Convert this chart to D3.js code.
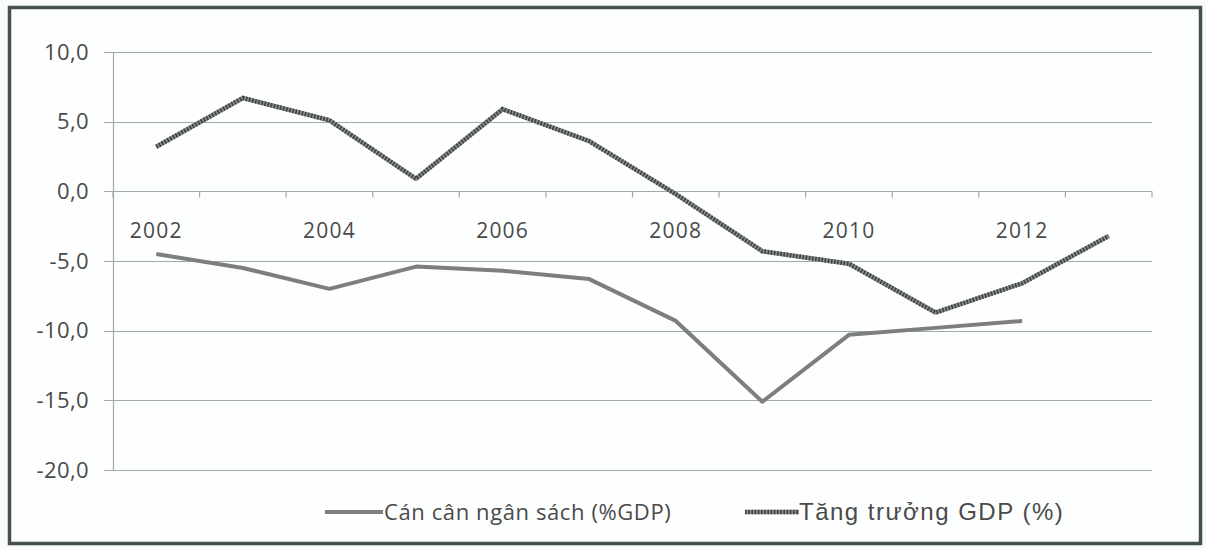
<!DOCTYPE html>
<html>
<head>
<meta charset="utf-8">
<script src="https://cdn.jsdelivr.net/npm/d3@7"></script>
<style>
  body { margin: 0; background: #fff; }
  svg { display: block; }
</style>
</head>
<body>
<script>
const years = ['2002', '2003', '2004', '2005', '2006', '2007', '2008', '2009', '2010', '2011', '2012', '2013'];
const yearLabels = ['2002', '2004', '2006', '2008', '2010', '2012'];
const yTicks = [10, 5, 0, -5, -10, -15, -20];
// Cán cân ngân sách (%GDP), no value for 2013
const budget = [-4.5, -5.5, -7.0, -5.4, -5.7, -6.3, -9.3, -15.1, -10.3, -9.8, -9.3, null];
// Tăng trưởng GDP (%)
const gdp = [3.2, 6.7, 5.1, 0.9, 5.9, 3.6, -0.2, -4.3, -5.2, -8.7, -6.6, -3.2];
const legendNames = ['Cán cân ngân sách (%GDP)', 'Tăng trưởng GDP (%)'];

const width = 1206, height = 548;
const svg = d3.select('body').append('svg').attr('width', width).attr('height', height);

svg.append('rect').attr('width', width).attr('height', height).attr('fill', '#f9fbfb');
// frame of the scanned figure
svg.append('rect')
  .attr('x', 9.5).attr('y', 7.5).attr('width', 1191).attr('height', 536)
  .attr('fill', '#fdfefe').attr('stroke', '#44524e').attr('stroke-width', 3.5);

const x = d3.scaleBand().domain(years).range([113, 1152]);
const y = d3.scaleLinear().domain([-20, 10]).range([470, 52]);

const textColor = '#4a4a4a';
const gridColor = '#a3a8a8';

// gridlines
svg.append('g').selectAll('line').data(yTicks).enter().append('line')
  .attr('x1', 104).attr('x2', x.range()[1])
  .attr('y1', d => Math.round(y(d)) + 0.5).attr('y2', d => Math.round(y(d)) + 0.5)
  .attr('stroke', gridColor).attr('stroke-width', 1.2);

// vertical axis
svg.append('line')
  .attr('x1', 113.5).attr('x2', 113.5).attr('y1', y(10)).attr('y2', y(-20))
  .attr('stroke', gridColor).attr('stroke-width', 1.2);

svg.append('g').selectAll('text').data(yTicks).enter().append('text')
  .attr('x', 89).attr('y', d => y(d)).attr('dy', '0.35em')
  .attr('text-anchor', 'end')
  .attr('font-family', 'Open Sans').attr('font-size', 22).attr('letter-spacing', 0.4)
  .attr('fill', textColor)
  .text(d => d3.format('.1f')(d).replace('.', ',').replace('−', '-'));

// category axis at zero
const zeroY = Math.round(y(0)) + 0.5;
const tickXs = years.map(d => x(d)).concat([x.range()[1]]);
svg.append('g').selectAll('line').data(tickXs).enter().append('line')
  .attr('x1', d => d).attr('x2', d => d).attr('y1', zeroY).attr('y2', zeroY + 6)
  .attr('stroke', gridColor).attr('stroke-width', 1.2);

svg.append('g').selectAll('text').data(yearLabels).enter().append('text')
  .attr('x', d => x(d) + x.bandwidth() / 2).attr('y', 238)
  .attr('text-anchor', 'middle')
  .attr('font-family', 'Open Sans').attr('font-size', 21).attr('letter-spacing', 1.2)
  .attr('fill', textColor)
  .text(d => d);

const line = d3.line()
  .defined(d => d.v !== null)
  .x(d => x(d.year) + x.bandwidth() / 2)
  .y(d => y(d.v));

const budgetData = years.map((yr, i) => ({ year: yr, v: budget[i] }));
const gdpData = years.map((yr, i) => ({ year: yr, v: gdp[i] }));

svg.append('path').datum(budgetData).attr('d', line)
  .attr('fill', 'none').attr('stroke', '#7d7f7f').attr('stroke-width', 4)
  .attr('stroke-linejoin', 'round');

svg.append('path').datum(gdpData).attr('d', line)
  .attr('fill', 'none').attr('stroke', '#8c8e8e').attr('stroke-width', 4.5)
  .attr('stroke-linejoin', 'round');
svg.append('path').datum(gdpData).attr('d', line)
  .attr('fill', 'none').attr('stroke', '#3f4242').attr('stroke-width', 4.5)
  .attr('stroke-dasharray', '1.6 1.6');

// legend
const legendY = 512;
const lg = svg.append('g');
lg.append('line').attr('x1', 325).attr('x2', 383).attr('y1', legendY).attr('y2', legendY)
  .attr('stroke', '#7d7f7f').attr('stroke-width', 4);
lg.append('text').attr('x', 384).attr('y', legendY).attr('dy', '0.35em')
  .attr('font-family', 'Open Sans').attr('font-size', 22).attr('letter-spacing', 0.6)
  .attr('fill', textColor).text(legendNames[0]);

lg.append('line').attr('x1', 745).attr('x2', 799).attr('y1', legendY).attr('y2', legendY)
  .attr('stroke', '#8c8e8e').attr('stroke-width', 4.5);
lg.append('line').attr('x1', 745).attr('x2', 799).attr('y1', legendY).attr('y2', legendY)
  .attr('stroke', '#3f4242').attr('stroke-width', 4.5).attr('stroke-dasharray', '1.6 1.6');
lg.append('text').attr('x', 799).attr('y', legendY).attr('dy', '0.35em')
  .attr('font-family', 'Liberation Sans').attr('font-size', 24).attr('letter-spacing', 1.5)
  .attr('fill', textColor).text(legendNames[1]);
</script>
</body>
</html>
